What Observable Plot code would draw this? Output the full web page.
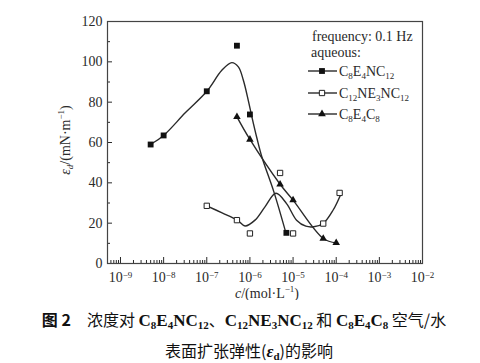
<!DOCTYPE html>
<html><head><meta charset="utf-8">
<script src="https://cdn.jsdelivr.net/npm/d3@7"></script>
<script src="https://cdn.jsdelivr.net/npm/@observablehq/plot@0.6"></script>
<style>
html,body{margin:0;padding:0;background:#fff;overflow:hidden;width:480px;height:363px;}
.cap{position:absolute;left:0;width:480px;text-align:center;font-family:"Noto Sans CJK SC",sans-serif;font-size:16px;line-height:20px;color:#111;padding-left:8px;box-sizing:border-box;white-space:nowrap;}
.cap .f{font-family:"Liberation Serif",serif;font-weight:bold;font-size:17px;}
.cap sub{font-size:11px;vertical-align:-3px;line-height:0;}
.cap .b{font-weight:bold;}
</style>
</head><body>
<div id="chart"></div>
<div class="cap" style="top:309px"><span class="b">图 2</span>&ensp;&ensp;浓度对 <span class="f">C<sub>8</sub>E<sub>4</sub>NC<sub>12</sub></span>、<span class="f">C<sub>12</sub>NE<sub>3</sub>NC<sub>12</sub></span> 和 <span class="f">C<sub>8</sub>E<sub>4</sub>C<sub>8</sub></span> 空气/水</div>
<div class="cap" style="top:340px;padding-left:18px">表面扩张弹性(<span class="f"><i>ε</i><sub>d</sub></span>)的影响</div>
<script>
// ---- data ----
const seriesNames = ["C8E4NC12", "C12NE3NC12", "C8E4C8"];
// measured points (concentration mol/L, elasticity mN/m)
const cA = [5e-9, 1e-8, 1e-7, 5e-7, 1e-6, 7e-6];
const eA = [59, 63.5, 85.4, 108, 73.9, 15.2];
const cB = [1e-7, 5e-7, 1e-6, 5e-6, 1e-5, 5e-5, 1.2e-4];
const eB = [28.6, 21.5, 14.9, 44.9, 14.9, 19.8, 35.0];
const cC = [5e-7, 1e-6, 5e-6, 1e-5, 5e-5, 1e-4];
const eC = [72.7, 61.5, 39.3, 31.4, 12.4, 10.2];
// fitted curves as drawn (log10 concentration, elasticity)
const fitAlog = [-8.269, -8.0, -7.499, -6.998, -6.651, -6.42, -6.268, -6.152, -6.037, -5.952, -5.836, -5.721, -5.443, -5.166];
const fitAval = [59.5, 63.5, 74.7, 85.4, 95.8, 99.6, 97.5, 90.9, 80.8, 72.5, 62.0, 52.7, 35.4, 15.2];
const fitBlog = [-7.0, -6.645, -6.291, -6.113, -5.882, -5.651, -5.397, -5.151, -4.919, -4.704, -4.52, -4.305, -4.074, -3.880];
const fitBval = [28.6, 25.1, 21.5, 18.6, 21.5, 28.1, 34.8, 29.7, 21.5, 18.5, 18.2, 19.8, 26.4, 35.0];
// axis ticks
const yTicks = [0, 20, 40, 60, 80, 100, 120];
const yMinor = [10, 30, 50, 70, 90, 110];
const xExp = [-9, -8, -7, -6, -5, -4, -3, -2];

const toPts = (c, e) => c.map((v, i) => ({c: v, e: e[i]}));
const ptsA = toPts(cA, eA), ptsB = toPts(cB, eB), ptsC = toPts(cC, eC);
const curveA = fitAlog.map((l, i) => ({c: 10 ** l, e: fitAval[i]}));
const curveB = fitBlog.map((l, i) => ({c: 10 ** l, e: fitBval[i]}));
const xMajor = xExp.map(e => 10 ** e);
const xMinor = [];
for (let e = -10; e < -2; e++) for (let m = 2; m <= 9; m++) { const v = m * 10 ** e; if (v >= 5e-10 && v <= 1e-2) xMinor.push(v); }

const ink = "#2a2a2a";
const svg = Plot.plot({
  width: 480, height: 300,
  marginLeft: 107, marginRight: 58, marginTop: 21, marginBottom: 37,
  x: {type: "log", domain: [5e-10, 1e-2]},
  y: {domain: [0, 120]},
  style: {fontFamily: "'Liberation Serif', serif", fontSize: "14px", color: ink, background: "white"},
  marks: [
    Plot.axisY({ticks: yTicks, tickSize: -5, tickPadding: 10, label: null, tickFormat: d => d}),
    Plot.axisY({ticks: yMinor, tickSize: -3, tickFormat: () => "", label: null}),
    Plot.axisX({ticks: xMajor, tickSize: -6, tickPadding: 15, label: null, tickFormat: d => "10|" + Math.round(Math.log10(d))}),
    Plot.axisX({ticks: xMinor, tickSize: -3, tickFormat: () => "", label: null}),
    Plot.frame({stroke: "#444", strokeWidth: 1.2}),
    Plot.line(curveA, {x: "c", y: "e", curve: "catmull-rom", stroke: ink, strokeWidth: 1.4}),
    Plot.line(curveB, {x: "c", y: "e", curve: "catmull-rom", stroke: ink, strokeWidth: 1.4}),
    Plot.line(ptsC, {x: "c", y: "e", curve: "catmull-rom", stroke: ink, strokeWidth: 1.4}),
    Plot.dot(ptsA, {x: "c", y: "e", symbol: "square", r: 3.3, fill: "#111", stroke: "none"}),
    Plot.dot(ptsB, {x: "c", y: "e", symbol: "square", r: 3.0, fill: "white", stroke: "#222", strokeWidth: 1}),
    Plot.dot(ptsC, {x: "c", y: "e", symbol: "triangle", r: 2.8, fill: "#111", stroke: "none"})
  ]
});
document.getElementById("chart").appendChild(svg);

const s = d3.select(svg);
// superscript x tick labels
s.selectAll("g[aria-label='x-axis tick label'] text").each(function() {
  const t = d3.select(this);
  const parts = t.text().split("|");
  if (parts.length !== 2) return;
  t.text(null);
  t.append("tspan").text(parts[0]);
  t.append("tspan").attr("dy", "-0.55em").attr("font-size", "9px").text("\u2212" + Math.abs(+parts[1]));
});

// axis titles
const yt = s.append("text").attr("transform", "translate(70,140) rotate(-90)").attr("text-anchor", "middle")
  .attr("font-family", "'Liberation Serif', serif").attr("font-size", 14).attr("fill", ink);
yt.append("tspan").attr("font-style", "italic").text("ε");
yt.append("tspan").attr("font-style", "italic").attr("font-size", 9).attr("dy", 3).text("d");
yt.append("tspan").attr("dy", -3).text("/(mN·m");
yt.append("tspan").attr("font-size", 9).attr("dy", -6).text("−1");
yt.append("tspan").attr("dy", 6).text(")");

const xt = s.append("text").attr("x", 267).attr("y", 298).attr("text-anchor", "middle")
  .attr("font-family", "'Liberation Serif', serif").attr("font-size", 14).attr("fill", ink);
xt.append("tspan").attr("font-style", "italic").text("c");
xt.append("tspan").text("/(mol·L");
xt.append("tspan").attr("font-size", 9).attr("dy", -6).text("−1");
xt.append("tspan").attr("dy", 6).text(")");

// legend
const lg = s.append("g").attr("font-family", "'Liberation Serif', serif").attr("font-size", 14)
  .attr("fill", ink).attr("text-anchor", "start");
lg.append("text").attr("x", 312).attr("y", 41).text("frequency: 0.1 Hz");
lg.append("text").attr("x", 311).attr("y", 57).text("aqueous:");
const subs = [[["C",""],["8","s"],["E",""],["4","s"],["NC",""],["12","s"]],
              [["C",""],["12","s"],["NE",""],["3","s"],["NC",""],["12","s"]],
              [["C",""],["8","s"],["E",""],["4","s"],["C",""],["8","s"]]];
const ys = [71, 93, 114];
const syms = [d3.symbolSquare, d3.symbolSquare, d3.symbolTriangle];
const sizes = [34, 28, 26];
seriesNames.forEach((n, i) => {
  const y = ys[i];
  lg.append("line").attr("x1", 308).attr("x2", 337).attr("y1", y).attr("y2", y).attr("stroke", ink).attr("stroke-width", 1.4);
  lg.append("path").attr("transform", `translate(322,${y})`).attr("d", d3.symbol(syms[i], sizes[i])())
    .attr("fill", i === 1 ? "white" : "#111").attr("stroke", i === 1 ? "#222" : "none");
  const t = lg.append("text").attr("x", 339).attr("y", y + 5);
  let prev = "";
  subs[i].forEach(([txt, k]) => {
    const sp = t.append("tspan").text(txt);
    if (k === "s" && prev !== "s") sp.attr("dy", 3).attr("font-size", 9);
    else if (k === "s") sp.attr("font-size", 9);
    else if (k !== "s" && prev === "s") sp.attr("dy", -3);
    prev = k;
  });
});
</script>
</body></html>
